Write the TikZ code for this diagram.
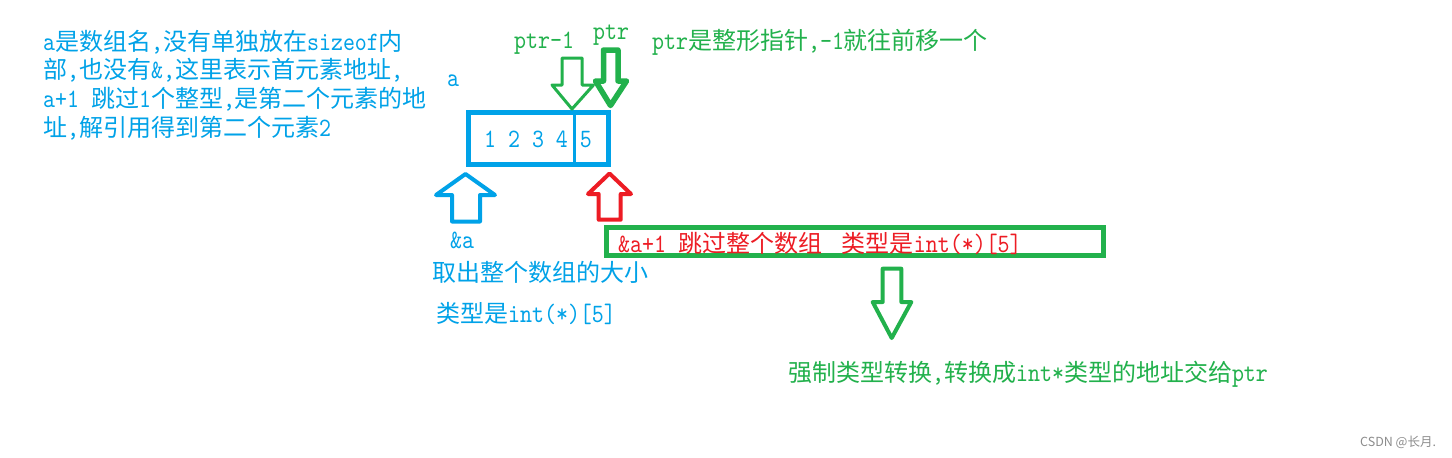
\documentclass[tikz,border=0pt]{standalone}
\usepackage{fontspec}
\newfontfamily\cjkf{Noto Sans CJK SC}
\newfontfamily\latfam{lmmono10-regular.otf}[FakeStretch=0.86]
\newcommand\zh[1]{{\cjkf\fontsize{24}{30}\selectfont #1}}
\newcommand\latf{\latfam\fontsize{26.5}{30}\selectfont}
\definecolor{pblue}{RGB}{0,162,232}
\definecolor{pgreen}{RGB}{34,177,76}
\definecolor{pred}{RGB}{237,28,36}
\tikzset{
  txt/.style={anchor=west, inner sep=0pt, text height=21pt, text depth=3pt, font=\latf},
  blockarrow/.style={line join=round},
}
\begin{document}
\begin{tikzpicture}[x=1pt,y=-1pt]
\useasboundingbox[fill=white] (0,0) rectangle (1452,458);
% left explanation
\node[txt, text=pblue] (l1) at (43,41.5) {a\zh{是数组名},\zh{没有单独放在}sizeof\zh{内}};
\node[txt, text=pblue] (l2) at (43,69) {\zh{部},\zh{也没有}\&,\zh{这里表示首元素地址},};
\node[txt, text=pblue] (l3) at (43,98) {a+1 \zh{跳过}1\zh{个整型},\zh{是第二个元素的地}};
\node[txt, text=pblue] (l4) at (43,127) {\zh{址},\zh{解引用得到第二个元素}2};
% array
\node[txt, text=pblue] (alabel) at (447,77) {a};
\draw[pblue, line width=5pt] (468,112.5) rectangle (608.5,164);
\draw[pblue, line width=3pt] (574,112.5) -- (574,164);
\node[txt, text=pblue] (nums) at (484,138) {1 2 3 4 5};
% pointers
\node[txt, text=pgreen] (ptrm) at (514,39) {ptr-1};
\node[txt, text=pgreen] (ptr) at (593,30) {ptr};
\node[txt, text=pgreen] (desc) at (652,40) {ptr\zh{是整形指针},-1\zh{就往前移一个}};
\draw[blockarrow, pgreen, line width=3pt] (562,58) -- (582,58) -- (582,85) -- (593.5,85) -- (572,109) -- (552,85) -- (562,85) -- cycle;
\draw[blockarrow, pgreen, line width=5.5pt] (603.5,50) -- (618,50) -- (618,81) -- (626.5,81) -- (610.5,105.5) -- (595.5,81) -- (603.5,81) -- cycle;
% up arrows
\draw[blockarrow, pblue, line width=4pt] (465.5,174) -- (495,195) -- (480,195) -- (480,221.5) -- (452,221.5) -- (452,195) -- (436,195) -- cycle;
\draw[blockarrow, pred, line width=4pt] (609.5,173.5) -- (631,194) -- (620.7,194) -- (620.7,219.7) -- (598.7,219.7) -- (598.7,194) -- (588,194) -- cycle;
\node[txt, text=pblue] (amp) at (450,239) {\&a};
\node[txt, text=pblue] (size) at (432,272) {\zh{取出整个数组的大小}};
\node[txt, text=pblue] (type) at (436,313) {\zh{类型是}int(*)[5]};
% &a+1 box
\draw[pgreen, line width=5pt] (606,227.5) rectangle (1103.5,255.5);
\node[txt, text=pred] (skip) at (618,243) {\&a+1 \zh{跳过整个数组}\hspace{8pt} \zh{类型是}int(*)[5]};
% down arrow
\draw[blockarrow, pgreen, line width=4pt] (882.7,268.7) -- (901.3,268.7) -- (901.3,302) -- (911.3,302) -- (891.7,338) -- (872.7,302) -- (882.7,302) -- cycle;
\node[txt, text=pgreen] (cast) at (788,372.5) {\zh{强制类型转换},\zh{转换成}int*\zh{类型的地址交给}ptr};
% watermark
\node[anchor=west, inner sep=0pt, text=black!45, font=\cjkf\fontsize{12.5}{14}\selectfont] (wm) at (1360,442) {CSDN @长月.};
\end{tikzpicture}
\end{document}
